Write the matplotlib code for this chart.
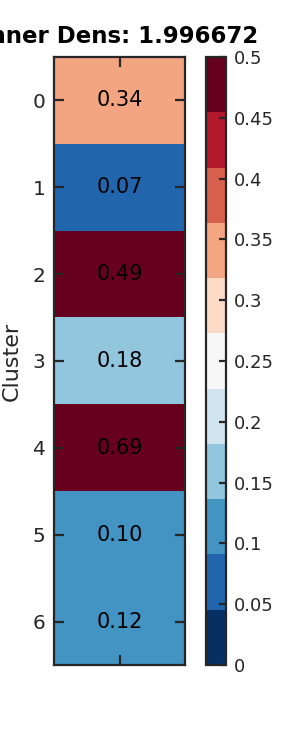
#!/usr/bin/env python3
"""Cluster inner density heatmap."""

import numpy as np
import matplotlib
matplotlib.use("Agg")
import matplotlib.pyplot as plt

clusters = ["0", "1", "2", "3", "4", "5", "6"]
values = [0.34, 0.07, 0.49, 0.18, 0.69, 0.10, 0.12]
title = "Inner Dens: 1.996672"
cbar_ticks = [0, 0.05, 0.1, 0.15, 0.2, 0.25, 0.3, 0.35, 0.4, 0.45, 0.5]
cbar_labels = ["0", "0.05", "0.1", "0.15", "0.2", "0.25", "0.3", "0.35", "0.4", "0.45", "0.5"]

EDGE = "#262626"


def main():
    plt.rcParams["font.family"] = "DejaVu Sans"
    fig = plt.figure(figsize=(3, 7.5), dpi=100)
    ax = fig.add_axes([54 / 300, 1 - 665 / 750, 131 / 300, 608 / 750])
    cax = fig.add_axes([206 / 300, 1 - 665 / 750, 20 / 300, 608 / 750])

    cmap = plt.get_cmap("RdBu_r", 11)
    data = np.array(values).reshape(-1, 1)
    im = ax.imshow(data, cmap=cmap, vmin=0, vmax=0.5, aspect="auto",
                   interpolation="nearest")

    for i, v in enumerate(values):
        ax.text(0, i, f"{v:.2f}", ha="center", va="center", fontsize=15, color="black")

    ax.set_yticks(range(len(clusters)))
    ax.set_yticklabels(clusters, fontsize=14.5, color=EDGE)
    ax.set_xticks([0])
    ax.set_xticklabels([])
    ax.set_ylabel("Cluster", fontsize=16, color=EDGE, labelpad=8)
    ax.tick_params(direction="in", length=7, width=1.6, color=EDGE,
                   top=True, right=True, bottom=True, left=True, pad=6)
    for s in ax.spines.values():
        s.set_color(EDGE)
        s.set_linewidth(1.6)
    ax.set_title(title, fontsize=16.5, fontweight="bold", pad=10)

    cb = fig.colorbar(im, cax=cax, ticks=cbar_ticks)
    cb.ax.set_yticklabels(cbar_labels, fontsize=13, color=EDGE)
    cb.ax.tick_params(direction="in", length=5, width=1.6, color=EDGE, pad=6)
    cb.outline.set_edgecolor(EDGE)
    cb.outline.set_linewidth(1.6)

    fig.savefig("out.png", dpi=100)
    plt.close(fig)


if __name__ == "__main__":
    main()
